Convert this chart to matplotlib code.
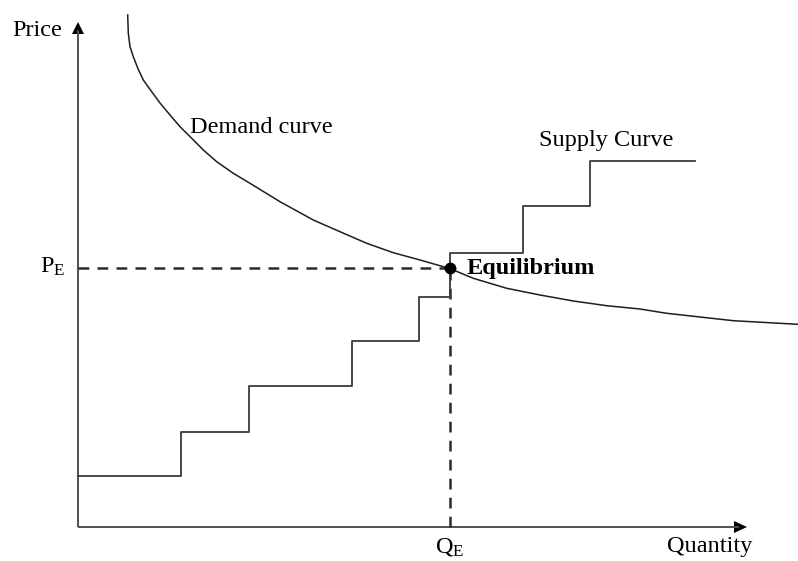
import matplotlib
matplotlib.use("Agg")
import matplotlib.pyplot as plt
from matplotlib.patches import Polygon

# coordinates: quantity / price units measured from the origin of the axes
demand_q = [49.7, 50.3, 52.0, 55.3, 60.0, 65.3, 73.7, 82.0, 92.0, 102.0,
            113.7, 125.3, 138.7, 155.3, 172.0, 202.0, 235.3, 262.0, 288.7,
            315.3, 342.0, 372.0, 395.3, 428.7, 462.0, 495.3, 528.7, 562.0,
            588.7, 655.3, 720.0]
demand_p = [512.0, 494.0, 480.3, 470.3, 458.3, 447.0, 435.3, 424.0, 412.0, 400.3,
            388.7, 377.0, 365.3, 353.7, 343.7, 325.3, 307.0, 295.3, 283.7,
            274.3, 267.0, 258.4, 248.7, 238.7, 232.0, 226.0, 221.3, 218.0,
            213.7, 206.3, 202.7]

supply_q = [0, 103, 171, 274, 341, 372, 445, 512, 617]
supply_p = [51, 95, 141, 186, 230, 274, 321, 366, 366]

eq_q, eq_p = 372, 259.3
axis_len_q, axis_len_p = 669, 505

plt.rcParams['font.family'] = ['Liberation Serif', 'DejaVu Serif']
plt.rcParams['mathtext.fontset'] = 'custom'
plt.rcParams['mathtext.rm'] = 'Liberation Serif'
plt.rcParams['mathtext.it'] = 'Liberation Serif:italic'

fig = plt.figure(figsize=(7.98, 5.61), dpi=100)
ax = fig.add_axes([0, 0, 1, 1])
ax.set_xlim(-78, 720)
ax.set_ylim(-34, 527)
ax.axis('off')

axis_col = '#505050'
line_col = '#1e1e1e'
fs = 17.5

# axes lines, then black triangular heads
ax.plot([0, 0], [0, axis_len_p - 8], color=axis_col, lw=1.4, solid_capstyle='butt')
ax.plot([0, axis_len_q - 8], [0, 0], color=axis_col, lw=1.4, solid_capstyle='butt')
ax.add_patch(Polygon([(0, axis_len_p), (-6, axis_len_p - 12), (6, axis_len_p - 12)],
                     closed=True, color='black', lw=0))
ax.add_patch(Polygon([(axis_len_q, 0), (axis_len_q - 13, 6), (axis_len_q - 13, -6)],
                     closed=True, color='black', lw=0))

# dashed guides to the equilibrium
ax.plot([0, eq_q], [eq_p, eq_p], color='#2b2b2b', lw=1.8, dashes=(4.3, 3.3))
ax.plot([eq_q, eq_q], [0, eq_p], color='#2b2b2b', lw=1.8, dashes=(4.3, 3.3))

# curves
ax.plot(demand_q, demand_p, color=line_col, lw=1.1)
ax.step(supply_q, supply_p, where='post', color='#3a3a3a', lw=1.3)
ax.plot([eq_q], [eq_p], 'o', color='black', ms=7.5)

# labels
ax.text(-65.3, 491, 'Price', fontsize=fs, ha='left', va='baseline')
ax.text(589, -25, 'Quantity', fontsize=fs, ha='left', va='baseline')
ax.text(112, 394, 'Demand curve', fontsize=fs, ha='left', va='baseline')
ax.text(461, 381, 'Supply Curve', fontsize=fs, ha='left', va='baseline')
ax.text(389, 253, 'Equilibrium', fontsize=fs, fontweight='bold', ha='left', va='baseline')
ax.text(-38, 254, r'$\mathrm{P}_\mathrm{E}$', fontsize=fs, ha='left', va='baseline')
ax.text(357, -26, r'$\mathrm{Q}_\mathrm{E}$', fontsize=fs, ha='left', va='baseline')

fig.savefig('out.png', dpi=100)
